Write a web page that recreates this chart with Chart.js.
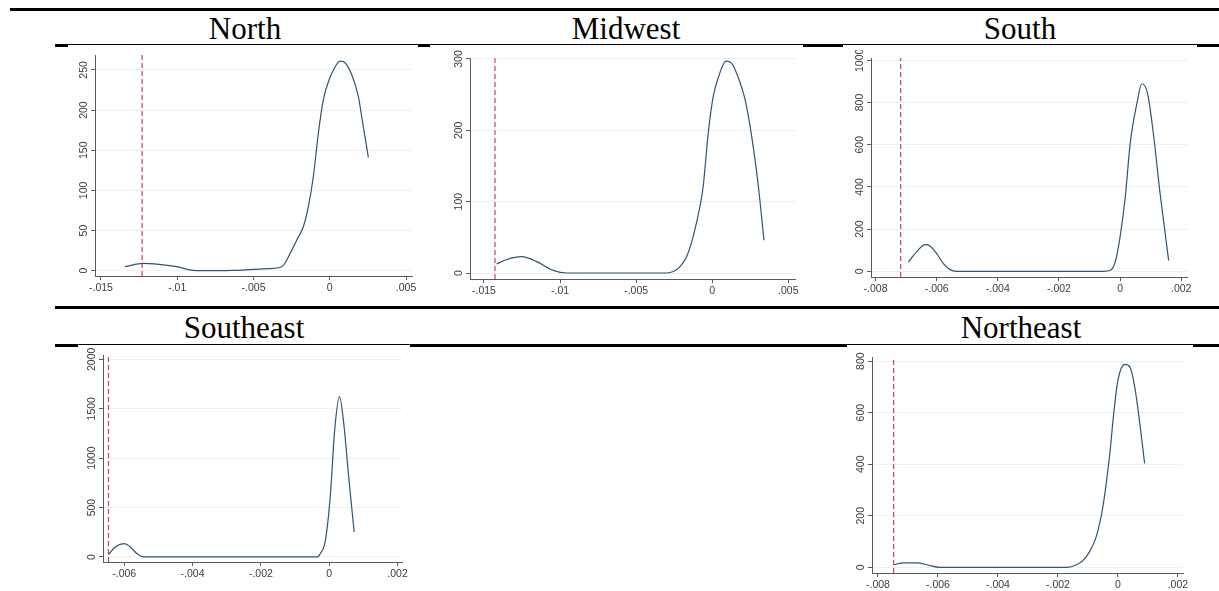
<!DOCTYPE html>
<html>
<head>
<meta charset="utf-8">
<script src="https://cdn.jsdelivr.net/npm/chart.js@4.4.1/dist/chart.umd.min.js"></script>
<style>
  body { margin: 0; background: #fff; width: 1219px; height: 591px; position: relative; overflow: hidden; }
  .rule { position: absolute; background: #000; }
  .box { position: absolute; background: #fff; }
  .title { position: absolute; width: 300px; text-align: center; font: 31px "Liberation Serif", "Times New Roman", serif; line-height: 31px; color: #000; }
  canvas { position: absolute; }
</style>
</head>
<body>
<div class="rule" style="left:10px;top:8px;width:1209px;height:3px"></div>
<div class="rule" style="left:55px;top:44px;width:1164px;height:3px"></div>
<div class="rule" style="left:55px;top:306px;width:1164px;height:3px"></div>
<div class="rule" style="left:55px;top:344px;width:1164px;height:3px"></div>

<div class="box" style="left:68px;top:45px;width:350px;height:255px"></div>
<div class="box" style="left:430px;top:45px;width:373px;height:255px"></div>
<div class="box" style="left:843px;top:45px;width:354px;height:255px"></div>
<div class="box" style="left:78px;top:345px;width:332px;height:246px"></div>
<div class="box" style="left:847px;top:345px;width:346px;height:246px"></div>

<div class="title" style="left:95px;top:13px">North</div>
<div class="title" style="left:476px;top:13px">Midwest</div>
<div class="title" style="left:870px;top:13px">South</div>
<div class="title" style="left:94px;top:312px">Southeast</div>
<div class="title" style="left:871px;top:312px">Northeast</div>

<canvas id="north"></canvas>
<canvas id="midwest"></canvas>
<canvas id="south"></canvas>
<canvas id="southeast"></canvas>
<canvas id="northeast"></canvas>

<script>
// density curves
const northX = [-0.01343, -0.01223, -0.0115, -0.01004, -0.00895, -0.0075, -0.00632, -0.00501, -0.0041, -0.00315, -0.00295, -0.00261, -0.00217, -0.00173, -0.0014, -0.00108, -0.00075, -0.00042, 0, 0.00024, 0.00067, 0.001, 0.00144, 0.00187, 0.0022, 0.00253];
const northY = [5, 9, 8.5, 5, 0.5, 0, 0.3, 1.7, 2.5, 5, 9, 21, 38, 55, 80, 117, 171, 213, 240, 250, 261, 259, 244, 217, 179, 141];

const midwestX = [-0.01417, -0.0135, -0.01252, -0.01154, -0.01045, -0.00957, -0.0075, -0.003, -0.00256, -0.00212, -0.00168, -0.00124, -0.0008, -0.00059, -0.00026, 0.00007, 0.0004, 0.0009, 0.00128, 0.00171, 0.00215, 0.00259, 0.00303, 0.0034];
const midwestY = [12.6, 19, 23, 16, 3.7, 0, 0, 0, 2, 9, 23, 52, 94, 122, 197, 248, 274, 297, 294, 274, 244, 192, 122, 46];

const southX = [-0.00693, -0.00666, -0.00638, -0.00622, -0.006, -0.00578, -0.00556, -0.00535, -0.00054, -0.00032, -0.00016, 0, 0.00017, 0.00033, 0.00055, 0.00071, 0.0009, 0.00109, 0.00131, 0.00159];
const southY = [44, 92, 126, 120, 84, 36, 8, 0, 0, 5, 44, 163, 352, 605, 795, 889, 842, 652, 368, 52];

const southeastX = [-0.00646, -0.00626, -0.006, -0.00582, -0.00563, -0.00543, -0.00036, -0.00026, -0.00012, 0.00003, 0.00016, 0.0003, 0.00042, 0.00057, 0.00073];
const southeastY = [24, 101, 135, 101, 34, 0, 0, 34, 152, 608, 1284, 1622, 1368, 811, 253];

const northeastX = [-0.00748, -0.00715, -0.0067, -0.00637, -0.00593, -0.00171, -0.00138, -0.00116, -0.00094, -0.00072, -0.0005, -0.00027, -0.00014, 0, 0.00023, 0.0004, 0.00056, 0.00073, 0.00089];
const northeastY = [10, 17, 17, 10, 0, 0, 10, 27, 62, 120, 236, 442, 597, 725, 787, 777, 700, 558, 403];

// red dashed reference lines
const northCut = -0.0123;
const midwestCut = -0.01428;
const southCut = -0.00718;
const southeastCut = -0.00646;
const northeastCut = -0.00748;

// tick values and labels
const northYTicks = [0, 50, 100, 150, 200, 250];
const midwestYTicks = [0, 100, 200, 300];
const southYTicks = [0, 200, 400, 600, 800, 1000];
const southeastYTicks = [0, 500, 1000, 1500, 2000];
const northeastYTicks = [0, 200, 400, 600, 800];

const wideXTicks = [-0.015, -0.01, -0.005, 0, 0.005];
const wideXLabels = ['-.015', '-.01', '-.005', '0', '.005'];
const narrowXTicks = [-0.008, -0.006, -0.004, -0.002, 0, 0.002];
const narrowXLabels = ['-.008', '-.006', '-.004', '-.002', '0', '.002'];
const seXTicks = [-0.006, -0.004, -0.002, 0, 0.002];
const seXLabels = ['-.006', '-.004', '-.002', '0', '.002'];

const AXIS_W = 30, AXIS_H = 22, PAD_TOP = 8, PAD_RIGHT = 12;
const axisColor = '#5a5a5a';
const labelColor = '#3c3c3c';
const gridColor = '#eceff3';
const labelFont = '"Liberation Sans", Arial, sans-serif';

// Stata draws the y labels turned on their side
const rotatedYLabels = {
  id: 'rotatedYLabels',
  afterDraw(chart) {
    const s = chart.scales.y;
    const ctx = chart.ctx;
    ctx.save();
    ctx.font = '10.5px ' + labelFont;
    ctx.fillStyle = labelColor;
    ctx.textAlign = 'center';
    ctx.textBaseline = 'middle';
    s.ticks.forEach(t => {
      ctx.save();
      ctx.translate(chart.chartArea.left - 11, s.getPixelForValue(t.value));
      ctx.rotate(-Math.PI / 2);
      ctx.fillText(String(t.value), 0, 0);
      ctx.restore();
    });
    ctx.restore();
  }
};

function makePanel(id, box, xs, ys, cut, xr, yr, xTicks, xLabels, yTicks) {
  const canvas = document.getElementById(id);
  canvas.style.left = box[0] + 'px';
  canvas.style.top = box[1] + 'px';
  canvas.width = box[2];
  canvas.height = box[3];

  const curve = xs.map((x, i) => ({ x: x, y: ys[i] }));

  return new Chart(canvas.getContext('2d'), {
    type: 'scatter',
    data: {
      datasets: [{
        data: curve,
        showLine: true,
        borderColor: '#33536f',
        borderWidth: 1.2,
        pointRadius: 0,
        cubicInterpolationMode: 'monotone',
        order: 1
      }, {
        data: [{ x: cut, y: yr[0] }, { x: cut, y: yr[1] }],
        showLine: true,
        borderColor: '#d0405e',
        borderWidth: 1.2,
        borderDash: [5, 3],
        pointRadius: 0,
        order: 2
      }]
    },
    options: {
      responsive: false,
      animation: false,
      layout: { padding: { top: PAD_TOP, right: PAD_RIGHT, left: 0, bottom: 0 } },
      plugins: { legend: { display: false }, tooltip: { enabled: false } },
      scales: {
        x: {
          type: 'linear',
          min: xr[0],
          max: xr[1],
          afterBuildTicks: s => { s.ticks = xTicks.map(v => ({ value: v })); },
          afterFit: s => { s.height = AXIS_H; },
          ticks: {
            autoSkip: false,
            maxRotation: 0,
            padding: 2,
            color: labelColor,
            font: { family: labelFont, size: 10.5 },
            callback: (v, i) => xLabels[i]
          },
          grid: { drawOnChartArea: false, tickLength: 4, tickColor: axisColor },
          border: { color: axisColor, width: 1 }
        },
        y: {
          type: 'linear',
          min: yr[0],
          max: yr[1],
          afterBuildTicks: s => { s.ticks = yTicks.map(v => ({ value: v })); },
          afterFit: s => { s.width = AXIS_W; },
          ticks: { display: false },
          grid: { color: gridColor, lineWidth: 1, tickLength: 4, tickColor: axisColor },
          border: { color: axisColor, width: 1 }
        }
      }
    },
    plugins: [rotatedYLabels]
  });
}

makePanel('north', [65, 47, 359, 251], northX, northY, northCut,
  [-0.01539, 0.00539], [-6.6, 268.6], wideXTicks, wideXLabels, northYTicks);
makePanel('midwest', [440, 50, 367, 251], midwestX, midwestY, midwestCut,
  [-0.01592, 0.00544], [-8.4, 301.4], wideXTicks, wideXLabels, midwestYTicks);
makePanel('south', [841, 50, 358, 249], southX, southY, southCut,
  [-0.00815, 0.00219], [-27, 1011], narrowXTicks, narrowXLabels, southYTicks);
makePanel('southeast', [73, 347, 341, 237], southeastX, southeastY, southeastCut,
  [-0.00662, 0.00213], [-51, 2044], seXTicks, seXLabels, southeastYTicks);
makePanel('northeast', [842, 349, 353, 246], northeastX, northeastY, northeastCut,
  [-0.0082, 0.00217], [-22, 816], narrowXTicks, narrowXLabels, northeastYTicks);
</script>
</body>
</html>
